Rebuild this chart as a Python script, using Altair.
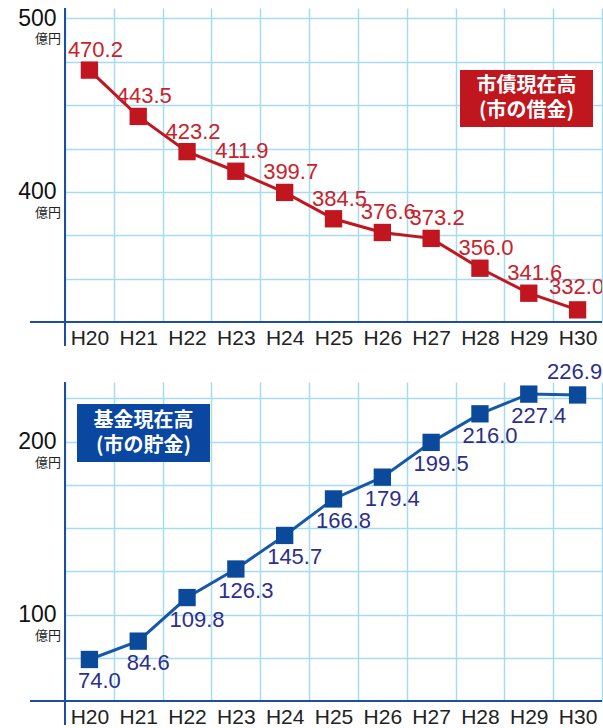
import altair as alt
import pandas as pd

years = ["H20", "H21", "H22", "H23", "H24", "H25", "H26", "H27", "H28", "H29", "H30"]
debt = [470.2, 443.5, 423.2, 411.9, 399.7, 384.5, 376.6, 373.2, 356.0, 341.6, 332.0]
fund = [74.0, 84.6, 109.8, 126.3, 145.7, 166.8, 179.4, 199.5, 216.0, 227.4, 226.9]
debt_ticks = [350, 375, 400, 425, 450, 475, 500]
fund_ticks = [75, 100, 125, 150, 175, 200, 225]
debt_major = [400, 500]
fund_major = [100, 200]
debt_box = ["市債現在高", "(市の借金)"]
fund_box = ["基金現在高", "(市の貯金)"]
unit = "億円"

W = 537
H1 = 314
H2 = 319
GRID = "#a6dbf4"
AXIS = "#1d4f9e"
LATIN = "Liberation Sans"
CJK = "Noto Sans CJK JP"
ONE = alt.Data(values=[{}])


def panel(values, domain, ticks, major, H, line_c, pt_c, lab_c, box_lines, box_c, box,
          label_layers, clip=False, anchor=False):
    df = pd.DataFrame({"year": years, "value": values})
    base = alt.Chart(df).encode(
        x=alt.X("year:N", sort=years,
                scale=alt.Scale(type="band", paddingInner=0, paddingOuter=0),
                axis=alt.Axis(title=None, labelAngle=0, tickBand="extent", grid=True,
                              gridColor=GRID, gridWidth=1.5, ticks=False, domain=False,
                              labelFont=LATIN, labelFontSize=21, labelColor="#222",
                              labelPadding=5)),
        y=alt.Y("value:Q", scale=alt.Scale(domain=domain, nice=False, zero=False),
                axis=alt.Axis(title=None, values=ticks, grid=True, gridColor=GRID,
                              gridWidth=1.5, ticks=False, domain=False,
                              labelExpr="datum.value % 100 == 0 ? datum.label : ''",
                              labelFont=LATIN, labelFontSize=23, labelColor="#111",
                              labelPadding=9)),
    )
    line = base.mark_line(color=line_c, strokeWidth=3)
    pts = base.mark_square(size=300, color=pt_c, opacity=1)
    labels = []
    for flt, dx, dy in label_layers:
        t = base.mark_text(align="center", baseline="middle", dx=dx, dy=dy,
                           font=LATIN, fontSize=22, color=lab_c, clip=clip)
        if flt:
            t = t.transform_filter(flt)
        labels.append(t.encode(text=alt.Text("value:Q", format=".1f")))
    yrule = alt.Chart(ONE).mark_rule(color=AXIS, strokeWidth=2).encode(
        x=alt.value(0), y=alt.value(0), y2=alt.value(H + 24))
    xrule = alt.Chart(ONE).mark_rule(color=AXIS, strokeWidth=2).encode(
        x=alt.value(-35), x2=alt.value(W), y=alt.value(H))
    units = alt.Chart(pd.DataFrame({"value": major})).mark_text(
        align="right", baseline="middle", dy=21, font=CJK, fontSize=13, color="#222"
    ).encode(x=alt.value(-4), y=alt.Y("value:Q"), text=alt.value(unit))
    x0, x1, y0, y1 = box
    rect = alt.Chart(ONE).mark_rect(color=box_c).encode(
        x=alt.value(x0), x2=alt.value(x1), y=alt.value(y0), y2=alt.value(y1))
    cx = (x0 + x1) / 2
    cy = (y0 + y1) / 2
    texts = []
    for i, s in enumerate(box_lines):
        texts.append(alt.Chart(ONE).mark_text(
            align="center", baseline="middle", font=CJK, fontSize=20,
            fontWeight="bold", color="white"
        ).encode(x=alt.value(cx), y=alt.value(cy + (i - 0.5) * 25), text=alt.value(s)))
    layers = [line, pts] + labels + [yrule, xrule, units, rect] + texts
    if anchor:
        layers.append(alt.Chart(ONE).mark_rule(strokeOpacity=0, strokeWidth=0.01).encode(
            x=alt.value(-65), x2=alt.value(W + 1), y=alt.value(-8)))
    return alt.layer(*layers).properties(width=W, height=H)


top = panel(debt, [325, 506], debt_ticks, debt_major, H1,
            "#c1161f", "#c1161f", "#c9222b", debt_box, "#c0161e",
            (395, 528, 62, 119),
            [("datum.year != 'H30'", 6, -20), ("datum.year == 'H30'", -1, -23)],
            clip=True, anchor=True)
bottom = panel(fund, [50, 234.4], fund_ticks, fund_major, H2,
               "#1559a8", "#0b4a9b", "#2c2f8c", fund_box, "#0a47a0",
               (12, 145, 22, 80),
               [("datum.year != 'H30'", 10, 22), ("datum.year == 'H30'", -3, -23)])

chart = alt.vconcat(top, bottom, spacing=60, bounds="flush").properties(
    padding=0, background="white"
).configure_view(stroke=None)

chart.save("out.html", embed_options={"renderer": "svg", "actions": False})
